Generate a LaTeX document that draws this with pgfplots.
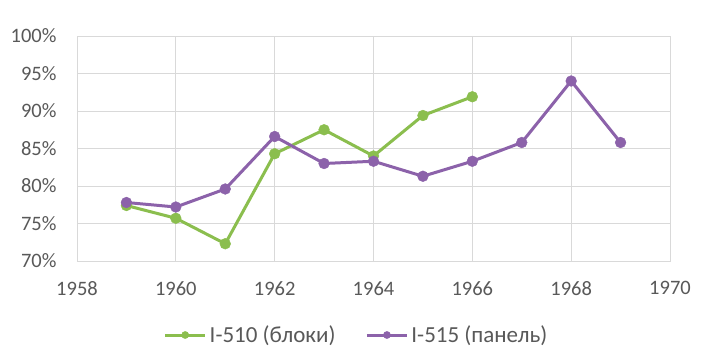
\documentclass[border=0pt]{standalone}
\usepackage{pgfplots}
\pgfplotsset{compat=1.18}
\usepackage{fontspec}
\setmainfont{Carlito}
\definecolor{cgreen}{RGB}{139,190,78}
\definecolor{cpurple}{RGB}{140,98,170}
\definecolor{cgrid}{RGB}{217,217,217}
\definecolor{ctext}{RGB}{89,89,89}
\begin{document}
\begin{tikzpicture}
\path[use as bounding box,fill=white] (0,0) rectangle (705bp,-360bp);
\begin{axis}[
  at={(77bp,-261bp)}, anchor=south west,
  scale only axis, width=593bp, height=225bp,
  xmin=1958, xmax=1970, ymin=70, ymax=100,
  xtick={1958,1960,...,1970},
  xticklabels={1958,1960,1962,1964,1966,1968,1970},
  ytick={70,75,...,100},
  yticklabels={70\%,75\%,80\%,85\%,90\%,95\%,100\%},
  grid=major,
  major grid style={cgrid, line width=0.9bp},
  axis line style={cgrid, line width=0.9bp},
  tick style={draw=none},
  ticklabel style={font=\fontsize{20.5bp}{24bp}\selectfont, text=ctext},
  yticklabel style={xshift=-17bp},
  xticklabel style={yshift=-17bp},
  legend columns=2,
  legend style={draw=none, at={(0.5,0)}, anchor=center, yshift=-74bp, xshift=-17bp,
    font=\fontsize{23bp}{26bp}\selectfont, text=ctext,
    /tikz/every odd column/.append style={column sep=1bp},
    /tikz/every even column/.append style={column sep=28bp}},
  legend image code/.code={\draw[mark repeat=2,mark phase=2,#1,mark size=3.6bp] plot coordinates {(0bp,0bp) (20bp,0bp) (40bp,0bp)};},
]
\addplot[cgreen, line width=3bp, mark=*, mark size=5.4bp, mark options={fill=cgreen,draw=cgreen,line width=0.4bp}] coordinates {
(1959,77.4) (1960,75.7) (1961,72.3) (1962,84.3) (1963,87.5) (1964,84.0) (1965,89.4) (1966,91.9)};
\addlegendentry{I-510 (блоки)}
\addplot[cpurple, line width=3bp, mark=*, mark size=5.4bp, mark options={fill=cpurple,draw=cpurple,line width=0.4bp}] coordinates {
(1959,77.8) (1960,77.2) (1961,79.6) (1962,86.6) (1963,83.0) (1964,83.3) (1965,81.3) (1966,83.3) (1967,85.8) (1968,94.0) (1969,85.8)};
\addlegendentry{I-515 (панель)}
\end{axis}
\end{tikzpicture}
\end{document}
